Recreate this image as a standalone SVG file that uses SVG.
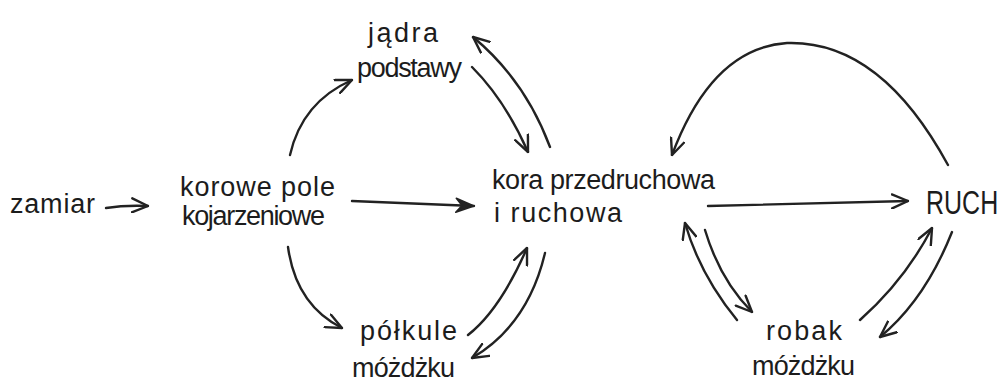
<svg xmlns="http://www.w3.org/2000/svg" width="1005" height="384" viewBox="0 0 1005 384">
  <defs>
    <marker id="head" viewBox="0 0 18 16" refX="17" refY="8" markerWidth="18" markerHeight="16" markerUnits="userSpaceOnUse" orient="auto-start-reverse">
      <path d="M1,1 L17,8 L1,15" fill="none" stroke="#222" stroke-width="2.4" stroke-linecap="round" stroke-linejoin="round"/>
    </marker>
    <marker id="headFill" viewBox="0 0 20 16" refX="19" refY="8" markerWidth="20" markerHeight="16" markerUnits="userSpaceOnUse" orient="auto">
      <path d="M1,1 L19,8 L1,15 L7,8 Z" fill="#222" stroke="#222" stroke-width="1.5" stroke-linejoin="round"/>
    </marker>
  </defs>
  <style>
    text { font-family: "Liberation Sans", Arial, sans-serif; font-size: 27px; fill: #1c1c1c; }
    .big { font-size: 25px; }
    .link { fill: none; stroke: #222; stroke-width: 2.4; stroke-linecap: round; }
  </style>
  <rect width="1005" height="384" fill="#ffffff"/>

  <g id="zamiar">
    <text x="10" y="213" textLength="85" lengthAdjust="spacing">zamiar</text>
  </g>
  <g id="korowe-pole">
    <text x="180" y="196" textLength="155" lengthAdjust="spacing">korowe pole</text>
    <text x="182" y="225" textLength="143" lengthAdjust="spacing">kojarzeniowe</text>
  </g>
  <g id="jadra-podstawy">
    <text x="368" y="42" textLength="70" lengthAdjust="spacing">jądra</text>
    <text x="357" y="77" textLength="105" lengthAdjust="spacing">podstawy</text>
  </g>
  <g id="kora">
    <text x="492" y="189" textLength="223" lengthAdjust="spacing">kora przedruchowa</text>
    <text x="494" y="222" textLength="128" lengthAdjust="spacing">i ruchowa</text>
  </g>
  <g id="polkule">
    <text x="360" y="340" textLength="97" lengthAdjust="spacing">półkule</text>
    <text x="352" y="377" textLength="103" lengthAdjust="spacing">móżdżku</text>
  </g>
  <g id="robak">
    <text x="766" y="340" textLength="76" lengthAdjust="spacing">robak</text>
    <text x="752" y="375" textLength="103" lengthAdjust="spacing">móżdżku</text>
  </g>
  <g id="ruch">
    <!-- tall, narrow capitals -->
    <text class="big" transform="translate(926,214) scale(1,1.35)">RUCH</text>
  </g>

  <g id="connectors">
    <!-- zamiar -> korowe pole -->
    <path class="link" d="M106,208 Q125,205 148,206" marker-end="url(#head)"/>
    <!-- korowe pole -> kora -->
    <path class="link" d="M352,201 L474,206" marker-end="url(#headFill)"/>
    <!-- korowe pole -> jadra podstawy -->
    <path class="link" d="M290,155 Q302,102 352,80" marker-end="url(#head)"/>
    <!-- korowe pole -> polkule -->
    <path class="link" d="M288,247 Q296,305 342,328" marker-end="url(#head)"/>
    <!-- kora <-> jadra podstawy -->
    <path class="link" d="M550,147 Q525,80 473,37" marker-end="url(#head)"/>
    <path class="link" d="M472,67 Q505,100 528,152" marker-end="url(#head)"/>
    <!-- kora <-> polkule -->
    <path class="link" d="M468,335 Q500,310 527,248" marker-end="url(#head)"/>
    <path class="link" d="M545,253 Q528,325 472,358" marker-end="url(#head)"/>
    <!-- kora -> RUCH -->
    <path class="link" d="M708,206 L908,201" marker-end="url(#head)"/>
    <!-- RUCH -> kora (upper arc) -->
    <path class="link" d="M948,165 Q880,40 787,43 Q712,48 672,155" marker-end="url(#head)"/>
    <!-- kora <-> robak -->
    <path class="link" d="M737,320 Q700,275 685,223" marker-end="url(#head)"/>
    <path class="link" d="M705,230 Q720,280 752,312" marker-end="url(#head)"/>
    <!-- robak <-> RUCH -->
    <path class="link" d="M860,320 Q905,280 932,228" marker-end="url(#head)"/>
    <path class="link" d="M952,232 Q925,300 880,337" marker-end="url(#head)"/>
  </g>
</svg>
